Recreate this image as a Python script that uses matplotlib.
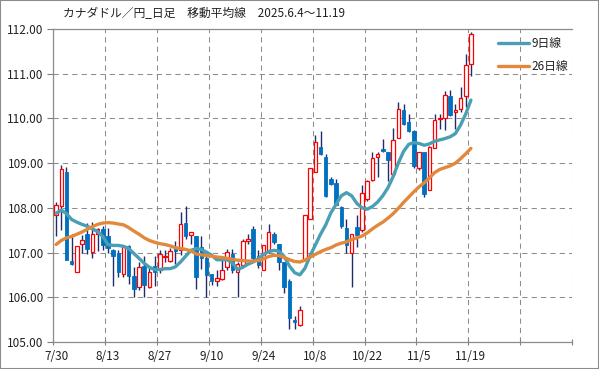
import numpy as np
import matplotlib
matplotlib.use('Agg')
import matplotlib.pyplot as plt
from matplotlib.patches import Rectangle

plt.rcParams['font.family'] = ['Noto Sans CJK JP', 'DejaVu Sans']

# x axis labels (every 10 business days)
tick_labels = ['7/30', '8/13', '8/27', '9/10', '9/24', '10/8', '10/22', '11/5', '11/19']

# daily candles 7/30 - 11/19
opens = [107.84, 108.04, 108.81, 106.81, 106.56, 107.20, 107.41, 107.02, 107.41, 107.53,
         107.36, 107.05, 107.00, 106.51, 107.15, 106.47, 106.22, 106.70, 106.24, 106.70,
         106.61, 106.89, 106.81, 107.09, 107.05, 107.67, 107.40, 107.36, 107.13, 106.87,
         106.51, 106.36, 106.40, 106.67, 106.96, 106.57, 106.72, 107.25, 107.52, 106.92,
         106.62, 107.05, 107.42, 107.19, 106.79, 106.37, 105.50, 105.37, 106.84, 107.76,
         108.81, 109.36, 109.14, 108.64, 108.55, 108.03, 107.55, 106.98, 107.57, 107.51,
         108.20, 108.62, 109.13, 109.31, 109.24, 108.76, 109.57, 110.19, 109.92, 109.72,
         108.89, 109.25, 108.40, 109.33, 109.98, 110.01, 110.50, 110.15, 110.20, 110.51,
         111.22]
highs = [108.13, 108.96, 108.92, 107.42, 107.15, 107.39, 107.67, 107.68, 107.55, 107.60,
         107.56, 107.07, 107.05, 107.16, 107.17, 106.68, 106.78, 106.92, 106.68, 106.92,
         107.05, 107.05, 107.10, 107.25, 107.90, 108.05, 107.47, 107.36, 107.36, 106.95,
         106.52, 106.62, 106.83, 107.09, 107.08, 106.80, 107.31, 107.42, 107.59, 107.05,
         107.16, 107.63, 107.45, 107.20, 106.80, 106.40, 105.58, 105.81, 107.84, 108.90,
         109.63, 109.72, 109.20, 108.68, 108.65, 108.05, 107.75, 107.41, 107.85, 108.52,
         108.63, 109.25, 109.24, 109.55, 109.26, 109.79, 110.36, 110.33, 110.11, 109.75,
         109.25, 109.26, 109.38, 110.09, 110.09, 110.61, 110.64, 110.33, 110.70, 111.44,
         111.94]
lows = [107.36, 107.50, 106.84, 106.72, 106.56, 106.98, 106.96, 106.88, 107.04, 107.05,
        107.00, 106.25, 106.45, 106.45, 106.30, 106.00, 106.16, 106.00, 106.20, 106.25,
        106.55, 106.79, 106.78, 106.75, 106.95, 107.30, 107.20, 106.19, 106.64, 106.00,
        106.28, 106.25, 106.38, 106.60, 106.55, 106.00, 106.68, 107.20, 106.80, 106.65,
        106.60, 107.00, 107.20, 106.60, 106.09, 105.29, 105.30, 105.35, 106.84, 107.76,
        108.80, 109.18, 108.24, 108.50, 108.07, 107.55, 106.98, 106.24, 107.13, 107.45,
        108.15, 108.60, 108.70, 109.25, 108.60, 108.76, 109.57, 109.85, 109.70, 108.90,
        108.85, 108.24, 108.40, 109.33, 109.76, 109.75, 110.05, 109.76, 110.15, 110.25,
        110.94]
closes = [108.07, 108.87, 106.84, 106.75, 107.15, 107.27, 107.07, 107.42, 107.53, 107.18,
          107.11, 106.93, 106.56, 107.13, 106.47, 106.19, 106.67, 106.27, 106.57, 106.57,
          106.96, 106.93, 107.03, 107.04, 107.64, 107.37, 107.47, 106.46, 106.87, 106.50,
          106.37, 106.44, 106.62, 107.01, 106.62, 106.74, 107.25, 107.31, 106.87, 106.73,
          107.16, 107.47, 107.24, 106.79, 106.24, 105.53, 105.44, 105.72, 107.84, 108.89,
          109.47, 109.20, 108.27, 108.53, 108.07, 107.59, 107.16, 107.41, 107.39, 108.33,
          108.59, 109.11, 109.20, 109.27, 109.07, 109.51, 110.22, 109.88, 109.73, 108.94,
          109.25, 108.31, 109.37, 109.96, 110.00, 110.53, 110.07, 110.18, 110.46, 111.20,
          111.89]

# moving averages
ma9 = [107.88, 107.95, 107.87, 107.74, 107.68, 107.63, 107.59, 107.53, 107.47, 107.36,
       107.18, 107.16, 107.16, 107.14, 107.09, 106.98, 106.87, 106.76, 106.67, 106.62,
       106.62, 106.64, 106.64, 106.68, 106.79, 106.92, 107.05, 107.09, 107.07, 107.01,
       106.94, 106.84, 106.84, 106.84, 106.77, 106.62, 106.67, 106.74, 106.79, 106.86,
       106.96, 107.02, 107.05, 107.03, 106.91, 106.70, 106.55, 106.50, 106.65, 106.93,
       107.17, 107.41, 107.62, 107.89, 108.08, 108.27, 108.34, 108.27, 108.10, 108.00,
       107.97, 108.03, 108.13, 108.27, 108.45, 108.70, 109.00, 109.26, 109.42, 109.46,
       109.44, 109.40, 109.43, 109.49, 109.52, 109.55, 109.59, 109.66, 109.85, 110.10,
       110.41]
ma26 = [107.18, 107.27, 107.33, 107.36, 107.41, 107.46, 107.52, 107.58, 107.63, 107.66,
        107.67, 107.66, 107.64, 107.62, 107.56, 107.48, 107.41, 107.33, 107.27, 107.23,
        107.20, 107.18, 107.15, 107.11, 107.09, 107.07, 107.04, 106.97, 106.95, 106.93,
        106.92, 106.90, 106.89, 106.87, 106.85, 106.83, 106.82, 106.81, 106.81, 106.82,
        106.86, 106.91, 106.94, 106.93, 106.89, 106.84, 106.80, 106.79, 106.83, 106.90,
        106.96, 107.02, 107.07, 107.11, 107.17, 107.21, 107.24, 107.29, 107.33, 107.37,
        107.44, 107.53, 107.61, 107.68, 107.77, 107.87, 107.99, 108.12, 108.24, 108.36,
        108.47, 108.56, 108.67, 108.79, 108.86, 108.90, 108.94, 109.00, 109.10, 109.21,
        109.33]

o = np.array(opens)
h = np.array(highs)
l = np.array(lows)
c = np.array(closes)
x = np.arange(len(o)) + 0.5
up = c >= o

fig = plt.figure(figsize=(5.99, 3.69), dpi=100)
ax = fig.add_axes([0.0893, 0.0732, 0.9657 - 0.0893 - 0.0107, 0.9214 - 0.0732])

# wicks
ax.vlines(x, l, h, color='#1F2D6B', linewidth=1.0, zorder=2)
# bodies
body_h = np.maximum(np.abs(c - o), 0.025)
body_b = np.minimum(o, c)
ax.bar(x[up], body_h[up], bottom=body_b[up], width=0.68, facecolor='white',
       edgecolor='#FF0000', linewidth=0.9, zorder=3)
ax.bar(x[~up], body_h[~up], bottom=body_b[~up], width=0.68, facecolor='#0070C0',
       edgecolor='#0070C0', linewidth=0.6, zorder=3)

ax.plot(x, ma9, color='#4A9FB5', linewidth=2.4, solid_capstyle='round', zorder=4, label='9日線')
ax.plot(x, ma26, color='#E2883A', linewidth=2.4, solid_capstyle='round', zorder=5, label='26日線')

ax.set_xlim(0, 100)
ax.set_ylim(105, 112)
ax.set_xticks(np.arange(0, 101, 10))
ax.set_xticklabels([])
ax.set_xticks(np.arange(len(tick_labels)) * 10 + 0.5, minor=True)
ax.set_xticklabels(tick_labels, minor=True)
ax.set_yticks(np.arange(105, 112.1, 1))
ax.set_yticklabels(['%.2f' % v for v in np.arange(105, 112.1, 1)])

ax.tick_params(axis='x', which='major', direction='inout', length=5, color='#808080', width=0.8)
ax.tick_params(axis='x', which='minor', length=0, pad=6, labelsize=8.5, labelcolor='#222222')
ax.tick_params(axis='y', direction='out', length=4, color='#808080', width=0.8,
               pad=3, labelsize=8.5, labelcolor='#222222')

ax.grid(True, which='major', color='#8C8C8C', linestyle=(0, (5, 4)), linewidth=0.75)
ax.set_axisbelow(True)
for s in ['left', 'bottom', 'top']:
    ax.spines[s].set_color('#8C8C8C')
    ax.spines[s].set_linewidth(0.9)
ax.spines['right'].set_visible(False)

leg = ax.legend(loc='upper left', bbox_to_anchor=(0.858, 0.975), frameon=False,
                fontsize=8.5, handlelength=2.6, handletextpad=0.2, borderpad=0,
                borderaxespad=0, labelspacing=0.9)
for t in leg.get_texts():
    t.set_color('#222222')

fig.text(0.105, 0.962, 'カナダドル／円_日足　移動平均線　2025.6.4～11.19',
         fontsize=8.5, va='center', ha='left', color='#222222')

fig.patches.append(Rectangle((0, 0), 1, 1, transform=fig.transFigure, fill=False,
                             edgecolor='#8C8C8C', linewidth=1.5))

fig.savefig('out.png', dpi=100)
